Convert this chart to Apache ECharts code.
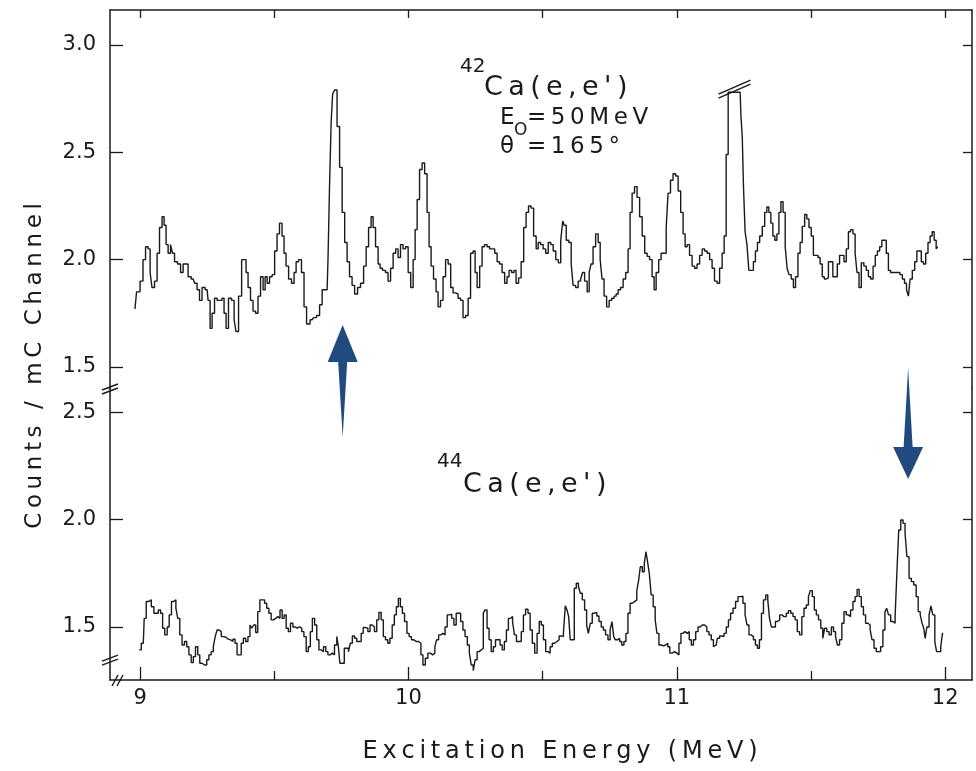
<!DOCTYPE html>
<html>
<head>
<meta charset="utf-8">
<script src="https://cdn.jsdelivr.net/npm/echarts@6/dist/echarts.min.js"></script>
<style>
  html, body { margin: 0; padding: 0; background: #fff; }
  #chart { width: 976px; height: 771px; }
</style>
</head>
<body>
<div id="chart"></div>
<script>
// 42Ca(e,e') spectrum, excitation energy (MeV) / counts per mC channel
const energy42 = [
  8.981, 8.993, 9.007, 9.015, 9.026, 9.034, 9.041, 9.048, 9.060, 9.067, 9.078, 9.086, 9.093, 9.101, 9.108,
  9.119, 9.123, 9.134, 9.145, 9.157, 9.164, 9.175, 9.183, 9.198, 9.209, 9.216, 9.227, 9.235, 9.250, 9.257,
  9.265, 9.272, 9.283, 9.291, 9.302, 9.309, 9.317, 9.324, 9.335, 9.347, 9.354, 9.361, 9.373, 9.384, 9.391,
  9.399, 9.406, 9.417, 9.425, 9.436, 9.443, 9.455, 9.462, 9.470, 9.477, 9.488, 9.496, 9.507, 9.514, 9.525,
  9.533, 9.540, 9.548, 9.559, 9.570, 9.578, 9.585, 9.596, 9.607, 9.615, 9.626, 9.641, 9.652, 9.663, 9.675,
  9.682, 9.697, 9.704, 9.708, 9.716, 9.719, 9.730, 9.738, 9.749, 9.757, 9.768, 9.775, 9.786, 9.794, 9.805,
  9.816, 9.827, 9.839, 9.846, 9.857, 9.865, 9.872, 9.883, 9.891, 9.898, 9.909, 9.920, 9.928, 9.939, 9.947,
  9.958, 9.965, 9.976, 9.984, 9.995, 10.003, 10.014, 10.021, 10.029, 10.036, 10.047, 10.055, 10.066, 10.073, 10.081,
  10.088, 10.099, 10.107, 10.114, 10.125, 10.133, 10.144, 10.152, 10.163, 10.170, 10.181, 10.189, 10.200, 10.207, 10.219,
  10.226, 10.237, 10.245, 10.252, 10.260, 10.271, 10.278, 10.289, 10.297, 10.308, 10.316, 10.327, 10.334, 10.345, 10.353,
  10.364, 10.371, 10.379, 10.390, 10.397, 10.405, 10.416, 10.424, 10.435, 10.442, 10.453, 10.461, 10.472, 10.480, 10.487,
  10.498, 10.506, 10.517, 10.525, 10.536, 10.543, 10.555, 10.562, 10.573, 10.577, 10.584, 10.592, 10.603, 10.610, 10.617,
  10.629, 10.636, 10.647, 10.651, 10.662, 10.670, 10.677, 10.684, 10.692, 10.703, 10.711, 10.718, 10.725, 10.733, 10.744,
  10.752, 10.763, 10.770, 10.778, 10.785, 10.796, 10.804, 10.815, 10.822, 10.830, 10.837, 10.848, 10.856, 10.867, 10.875,
  10.886, 10.893, 10.904, 10.912, 10.919, 10.927, 10.938, 10.945, 10.957, 10.964, 10.971, 10.982, 10.990, 11.001, 11.009,
  11.020, 11.027, 11.035, 11.042, 11.053, 11.061, 11.072, 11.079, 11.091, 11.098, 11.109, 11.117, 11.128, 11.135, 11.146,
  11.154, 11.165, 11.173, 11.180, 11.188, 11.195, 11.210, 11.225, 11.236, 11.242, 11.246, 11.251, 11.258, 11.265, 11.272,
  11.282, 11.289, 11.297, 11.304, 11.314, 11.323, 11.332, 11.339, 11.347, 11.354, 11.362, 11.369, 11.377, 11.384, 11.392,
  11.400, 11.408, 11.414, 11.422, 11.431, 11.438, 11.447, 11.456, 11.463, 11.472, 11.481, 11.488, 11.497, 11.505, 11.513,
  11.522, 11.530, 11.538, 11.546, 11.553, 11.561, 11.569, 11.578, 11.585, 11.594, 11.602, 11.611, 11.619, 11.627, 11.636,
  11.643, 11.652, 11.661, 11.668, 11.675, 11.683, 11.692, 11.702, 11.710, 11.718, 11.727, 11.736, 11.743, 11.752, 11.760,
  11.768, 11.776, 11.785, 11.792, 11.801, 11.810, 11.818, 11.827, 11.836, 11.845, 11.852, 11.860, 11.866, 11.873, 11.882,
  11.891, 11.898, 11.907, 11.915, 11.923, 11.932, 11.940, 11.948, 11.955, 11.963, 11.970, 11.975
]
const counts42 = [
  1.77, 1.85, 1.90, 2.00, 2.06, 2.05, 1.94, 1.87, 1.90, 2.03, 2.15, 2.20, 2.16, 2.07, 2.03,
  2.07, 2.03, 1.99, 1.98, 1.94, 1.98, 1.98, 1.92, 1.91, 1.89, 1.86, 1.81, 1.87, 1.86, 1.81,
  1.68, 1.75, 1.82, 1.81, 1.81, 1.82, 1.75, 1.68, 1.82, 1.81, 1.72, 1.665, 1.83, 2.00, 2.00,
  1.94, 1.87, 1.81, 1.76, 1.75, 1.83, 1.92, 1.86, 1.92, 1.89, 1.92, 1.93, 2.04, 2.12, 2.17,
  2.11, 2.03, 1.97, 1.91, 1.89, 1.94, 1.99, 2.00, 1.94, 1.78, 1.70, 1.72, 1.73, 1.74, 1.79,
  1.86, 1.86, 2.01, 2.34, 2.64, 2.77, 2.79, 2.62, 2.43, 2.22, 2.08, 1.99, 1.92, 1.88, 1.84,
  1.87, 1.89, 1.97, 2.06, 2.15, 2.20, 2.15, 2.06, 1.98, 1.96, 1.95, 1.94, 1.90, 1.96, 2.03,
  2.05, 2.01, 2.07, 2.05, 2.06, 1.94, 1.87, 2.00, 2.14, 2.28, 2.42, 2.45, 2.40, 2.22, 2.06,
  1.97, 1.91, 1.85, 1.78, 1.81, 1.92, 2.00, 1.98, 1.87, 1.845, 1.84, 1.82, 1.81, 1.73, 1.74,
  1.82, 2.03, 2.04, 1.94, 1.87, 1.97, 2.06, 2.07, 2.06, 2.05, 2.05, 2.03, 1.99, 1.98, 1.94,
  1.89, 1.92, 1.95, 1.94, 1.95, 1.89, 1.915, 1.99, 2.15, 2.22, 2.25, 2.24, 2.11, 2.05, 2.08,
  2.07, 2.05, 2.03, 2.08, 2.07, 2.04, 2.00, 1.985, 2.09, 2.18, 2.16, 2.09, 2.08, 1.98, 1.88,
  1.87, 1.90, 1.91, 1.94, 1.90, 1.85, 1.94, 1.98, 2.06, 2.12, 2.08, 2.00, 1.91, 1.83, 1.78,
  1.81, 1.82, 1.83, 1.84, 1.86, 1.87, 1.91, 1.94, 2.05, 2.22, 2.31, 2.34, 2.29, 2.20, 2.11,
  2.03, 2.015, 2.00, 1.92, 1.86, 1.94, 2.00, 2.03, 2.03, 2.15, 2.31, 2.37, 2.40, 2.39, 2.32,
  2.22, 2.12, 2.06, 2.07, 2.02, 1.97, 1.96, 1.98, 2.02, 2.05, 2.04, 2.03, 2.00, 1.96, 1.90,
  1.89, 1.96, 2.03, 2.11, 2.49, 2.78, 2.78, 2.78, 2.78, 2.67, 2.57, 2.34, 2.13, 2.07, 1.95,
  1.95, 1.99, 2.04, 2.08, 2.11, 2.155, 2.22, 2.245, 2.22, 2.17, 2.11, 2.09, 2.12, 2.22, 2.27,
  2.22, 2.06, 1.96, 1.93, 1.91, 1.87, 1.92, 2.03, 2.08, 2.155, 2.21, 2.19, 2.15, 2.11, 2.02,
  2.02, 2.01, 1.98, 1.92, 1.91, 1.915, 1.99, 1.99, 1.92, 1.92, 1.98, 2.02, 2.02, 1.99, 2.05,
  2.13, 2.14, 2.12, 2.03, 1.94, 1.87, 1.985, 1.97, 1.95, 1.92, 1.91, 1.97, 2.02, 2.04, 2.06,
  2.09, 2.09, 2.03, 1.95, 1.94, 1.94, 1.94, 1.94, 1.93, 1.91, 1.89, 1.86, 1.83, 1.91, 1.95,
  1.99, 2.04, 2.04, 1.99, 1.98, 2.03, 2.08, 2.11, 2.13, 2.09, 2.05, 2.06
]

// 44Ca(e,e') spectrum
const energy44 = [
  8.997, 9.012, 9.019, 9.027, 9.037, 9.047, 9.056, 9.064, 9.072, 9.081, 9.087, 9.097, 9.105, 9.112, 9.122,
  9.130, 9.137, 9.144, 9.152, 9.161, 9.170, 9.178, 9.186, 9.195, 9.202, 9.211, 9.219, 9.226, 9.236, 9.245,
  9.252, 9.261, 9.269, 9.277, 9.283, 9.291, 9.298, 9.307, 9.316, 9.324, 9.333, 9.342, 9.350, 9.358, 9.365,
  9.373, 9.381, 9.389, 9.398, 9.406, 9.413, 9.420, 9.427, 9.435, 9.442, 9.451, 9.460, 9.468, 9.476, 9.484,
  9.493, 9.502, 9.509, 9.518, 9.525, 9.534, 9.540, 9.549, 9.556, 9.565, 9.574, 9.581, 9.590, 9.599, 9.606,
  9.615, 9.623, 9.631, 9.638, 9.646, 9.655, 9.662, 9.671, 9.679, 9.688, 9.696, 9.704, 9.713, 9.720, 9.729,
  9.737, 9.741, 9.748, 9.758, 9.764, 9.773, 9.780, 9.787, 9.795, 9.804, 9.811, 9.820, 9.828, 9.835, 9.845,
  9.853, 9.861, 9.869, 9.878, 9.886, 9.894, 9.903, 9.910, 9.919, 9.927, 9.935, 9.944, 9.951, 9.959, 9.966,
  9.974, 9.981, 9.990, 9.999, 10.006, 10.016, 10.025, 10.033, 10.043, 10.050, 10.058, 10.068, 10.077, 10.086, 10.095,
  10.102, 10.108, 10.117, 10.124, 10.133, 10.140, 10.149, 10.158, 10.165, 10.174, 10.182, 10.190, 10.199, 10.207, 10.215,
  10.224, 10.230, 10.238, 10.245, 10.252, 10.260, 10.267, 10.276, 10.282, 10.289, 10.297, 10.304, 10.313, 10.320, 10.329,
  10.338, 10.345, 10.354, 10.361, 10.369, 10.376, 10.385, 10.391, 10.399, 10.406, 10.416, 10.425, 10.432, 10.441, 10.450,
  10.457, 10.466, 10.475, 10.484, 10.491, 10.499, 10.507, 10.516, 10.524, 10.532, 10.540, 10.549, 10.558, 10.565, 10.574,
  10.581, 10.588, 10.594, 10.600, 10.606, 10.615, 10.621, 10.630, 10.637, 10.644, 10.652, 10.661, 10.667, 10.674, 10.681,
  10.689, 10.698, 10.706, 10.714, 10.723, 10.730, 10.739, 10.748, 10.755, 10.762, 10.768, 10.774, 10.783, 10.791, 10.799,
  10.807, 10.814, 10.822, 10.830, 10.838, 10.847, 10.855, 10.861, 10.867, 10.876, 10.882, 10.888, 10.894, 10.901, 10.908,
  10.916, 10.923, 10.929, 10.938, 10.947, 10.954, 10.963, 10.970, 10.978, 10.988, 10.996, 11.004, 11.012, 11.019, 11.027,
  11.035, 11.043, 11.050, 11.058, 11.066, 11.075, 11.083, 11.091, 11.099, 11.108, 11.116, 11.124, 11.133, 11.140, 11.147,
  11.155, 11.164, 11.172, 11.180, 11.189, 11.196, 11.205, 11.214, 11.224, 11.232, 11.242, 11.251, 11.258, 11.265, 11.273,
  11.282, 11.289, 11.297, 11.304, 11.312, 11.319, 11.327, 11.336, 11.342, 11.349, 11.356, 11.364, 11.371, 11.379, 11.388,
  11.395, 11.404, 11.412, 11.420, 11.429, 11.437, 11.445, 11.453, 11.462, 11.470, 11.478, 11.487, 11.494, 11.501, 11.509,
  11.516, 11.524, 11.532, 11.541, 11.547, 11.555, 11.563, 11.572, 11.580, 11.588, 11.595, 11.602, 11.611, 11.619, 11.627,
  11.636, 11.643, 11.652, 11.661, 11.668, 11.676, 11.683, 11.692, 11.699, 11.708, 11.717, 11.724, 11.731, 11.739, 11.748,
  11.755, 11.764, 11.772, 11.779, 11.785, 11.793, 11.801, 11.810, 11.817, 11.824, 11.830, 11.839, 11.847, 11.854, 11.861,
  11.870, 11.878, 11.888, 11.896, 11.903, 11.911, 11.917, 11.923, 11.928, 11.936, 11.944, 11.950, 11.958, 11.965, 11.971,
  11.980, 11.987, 11.993
]
const counts44 = [
  1.393, 1.424, 1.54, 1.618, 1.626, 1.594, 1.564, 1.564, 1.579, 1.564, 1.494, 1.463, 1.50, 1.556, 1.618,
  1.626, 1.587, 1.54, 1.463, 1.416, 1.432, 1.408, 1.37, 1.334, 1.362, 1.408, 1.37, 1.331, 1.323, 1.323,
  1.347, 1.37, 1.385, 1.408, 1.455, 1.486, 1.478, 1.455, 1.452, 1.443, 1.44, 1.432, 1.443, 1.424, 1.37,
  1.37, 1.424, 1.447, 1.432, 1.455, 1.509, 1.494, 1.509, 1.474, 1.571, 1.626, 1.626, 1.61, 1.587, 1.564,
  1.533, 1.54, 1.548, 1.54, 1.579, 1.54, 1.556, 1.494, 1.478, 1.517, 1.50, 1.494, 1.50, 1.494, 1.478,
  1.455, 1.385, 1.408, 1.478, 1.54, 1.509, 1.44, 1.393, 1.385, 1.408, 1.385, 1.37, 1.378, 1.37, 1.416,
  1.455, 1.408, 1.331, 1.331, 1.401, 1.401, 1.385, 1.424, 1.458, 1.447, 1.432, 1.432, 1.47, 1.497, 1.494,
  1.478, 1.509, 1.50, 1.478, 1.533, 1.567, 1.533, 1.455, 1.44, 1.424, 1.447, 1.509, 1.556, 1.594, 1.633,
  1.594, 1.564, 1.525, 1.47, 1.455, 1.44, 1.432, 1.432, 1.424, 1.37, 1.323, 1.354, 1.378, 1.37, 1.378,
  1.408, 1.44, 1.463, 1.47, 1.463, 1.50, 1.556, 1.56, 1.54, 1.509, 1.564, 1.564, 1.525, 1.486, 1.455,
  1.416, 1.378, 1.323, 1.297, 1.347, 1.385, 1.393, 1.401, 1.564, 1.579, 1.494, 1.44, 1.385, 1.408, 1.44,
  1.44, 1.416, 1.393, 1.432, 1.486, 1.54, 1.548, 1.525, 1.463, 1.432, 1.432, 1.478, 1.556, 1.582, 1.564,
  1.486, 1.424, 1.378, 1.47, 1.525, 1.509, 1.44, 1.385, 1.378, 1.408, 1.424, 1.432, 1.44, 1.458, 1.455,
  1.47, 1.598, 1.579, 1.548, 1.44, 1.44, 1.68, 1.703, 1.688, 1.657, 1.626, 1.579, 1.509, 1.47, 1.517,
  1.564, 1.567, 1.551, 1.525, 1.50, 1.486, 1.463, 1.44, 1.486, 1.525, 1.455, 1.44, 1.447, 1.432, 1.416,
  1.432, 1.47, 1.564, 1.61, 1.618, 1.626, 1.669, 1.719, 1.78, 1.757, 1.796, 1.85, 1.804, 1.75, 1.649,
  1.594, 1.533, 1.47, 1.416, 1.412, 1.416, 1.424, 1.408, 1.378, 1.385, 1.378, 1.37, 1.424, 1.47, 1.478,
  1.47, 1.478, 1.44, 1.416, 1.44, 1.478, 1.50, 1.509, 1.509, 1.50, 1.478, 1.463, 1.44, 1.408, 1.416,
  1.447, 1.458, 1.455, 1.47, 1.50, 1.533, 1.564, 1.587, 1.618, 1.641, 1.643, 1.61, 1.556, 1.509, 1.463,
  1.455, 1.44, 1.416, 1.401, 1.44, 1.564, 1.626, 1.649, 1.626, 1.54, 1.50, 1.50, 1.525, 1.533, 1.556,
  1.548, 1.548, 1.564, 1.576, 1.564, 1.548, 1.533, 1.478, 1.463, 1.548, 1.587, 1.602, 1.641, 1.669, 1.641,
  1.579, 1.556, 1.533, 1.494, 1.447, 1.494, 1.478, 1.463, 1.50, 1.478, 1.455, 1.416, 1.44, 1.517, 1.571,
  1.556, 1.548, 1.579, 1.618, 1.641, 1.675, 1.641, 1.594, 1.556, 1.517, 1.509, 1.486, 1.44, 1.401, 1.385,
  1.385, 1.408, 1.486, 1.571, 1.587, 1.556, 1.525, 1.517, 1.548, 1.765, 1.951, 1.998, 1.982, 1.936, 1.827,
  1.726, 1.711, 1.695, 1.641, 1.571, 1.556, 1.517, 1.494, 1.447, 1.50, 1.556, 1.598, 1.556, 1.432, 1.385,
  1.385, 1.408, 1.47
]

const xTicks = [9, 10, 11, 12]
const xHalfTicks = [9.5, 10.5, 11.5]
const xAllTicks = [9, 9.5, 10, 10.5, 11, 11.5, 12]
const yTicks42 = [1.5, 2.0, 2.5, 3.0]
const yTicks44 = [1.5, 2.0, 2.5]

const ink = '#1a1a1a'
const arrowBlue = '#214b7f'
const font = 'DejaVu Sans'

// thin spaces between letters, the original lettering is widely tracked
function spread(s) {
  return s.split('').join('\u2009')
}

function pairs(xs, ys) {
  return xs.map((x, i) => [x, ys[i]])
}

const chart = echarts.init(document.getElementById('chart'), null, { renderer: 'canvas' })

const xMin = 8.888
const xMax = 12.1

const lineAxis = { show: true, lineStyle: { color: ink, width: 1.5 } }

const option = {
  animation: false,
  backgroundColor: '#fff',
  grid: [
    { left: 110, right: 4, top: 10, height: 378 },
    { left: 110, right: 4, top: 388, height: 292 }
  ],
  xAxis: [
    {
      type: 'value', gridIndex: 0, position: 'top', min: xMin, max: xMax,
      axisLine: lineAxis,
      axisTick: { show: true, inside: true, length: 8, customValues: xAllTicks, lineStyle: { color: ink, width: 1.3 } },
      axisLabel: { show: false },
      splitLine: { show: false }
    },
    {
      type: 'value', gridIndex: 1, position: 'bottom', min: xMin, max: xMax,
      axisLine: lineAxis,
      axisTick: { show: true, inside: true, length: 13, customValues: xTicks, lineStyle: { color: ink, width: 1.3 } },
      axisLabel: {
        show: true, customValues: xTicks, margin: 8,
        color: ink, fontFamily: font, fontSize: 21,
        formatter: v => String(Math.round(v))
      },
      splitLine: { show: false }
    },
    {
      type: 'value', gridIndex: 1, position: 'bottom', min: xMin, max: xMax,
      axisLine: { show: false },
      axisTick: { show: true, inside: true, length: 9, customValues: xHalfTicks, lineStyle: { color: ink, width: 1.3 } },
      axisLabel: { show: false },
      splitLine: { show: false }
    }
  ],
  yAxis: [
    {
      type: 'value', gridIndex: 0, position: 'left', min: 1.402, max: 3.163,
      axisLine: lineAxis,
      axisTick: { show: true, inside: true, length: 13, customValues: yTicks42, lineStyle: { color: ink, width: 1.3 } },
      axisLabel: {
        show: true, customValues: yTicks42, margin: 14,
        color: ink, fontFamily: font, fontSize: 21,
        formatter: v => v.toFixed(1)
      },
      splitLine: { show: false }
    },
    {
      type: 'value', gridIndex: 0, position: 'right', min: 1.402, max: 3.163,
      axisLine: lineAxis,
      axisTick: { show: true, inside: true, length: 9, customValues: yTicks42, lineStyle: { color: ink, width: 1.3 } },
      axisLabel: { show: false },
      splitLine: { show: false }
    },
    {
      type: 'value', gridIndex: 1, position: 'left', min: 1.253, max: 2.612,
      axisLine: lineAxis,
      axisTick: { show: true, inside: true, length: 13, customValues: yTicks44, lineStyle: { color: ink, width: 1.3 } },
      axisLabel: {
        show: true, customValues: yTicks44, margin: 14,
        color: ink, fontFamily: font, fontSize: 21,
        formatter: v => v.toFixed(1)
      },
      splitLine: { show: false }
    },
    {
      type: 'value', gridIndex: 1, position: 'right', min: 1.253, max: 2.612,
      axisLine: lineAxis,
      axisTick: { show: true, inside: true, length: 9, customValues: yTicks44, lineStyle: { color: ink, width: 1.3 } },
      axisLabel: { show: false },
      splitLine: { show: false }
    }
  ],
  series: [
    {
      name: '42Ca', type: 'line', xAxisIndex: 0, yAxisIndex: 0,
      data: pairs(energy42, counts42), step: 'middle',
      showSymbol: false, lineStyle: { color: ink, width: 1.4 }
    },
    {
      name: '44Ca', type: 'line', xAxisIndex: 1, yAxisIndex: 2,
      data: pairs(energy44, counts44), step: 'middle',
      showSymbol: false, lineStyle: { color: ink, width: 1.4 }
    }
  ]
}

chart.setOption(option)

// annotations placed after the axes exist
function px(axis, v) {
  return chart.convertToPixel({ xAxisIndex: axis }, v)
}
function py(axis, v) {
  return chart.convertToPixel({ yAxisIndex: axis }, v)
}

function txt(x, y, text, size, extra) {
  return {
    type: 'text', x, y, silent: true,
    style: Object.assign({
      text, fill: ink, fontFamily: font, fontSize: size,
      align: 'left', verticalAlign: 'middle'
    }, extra || {})
  }
}

function seg(x1, y1, x2, y2) {
  return {
    type: 'line', silent: true,
    shape: { x1, y1, x2, y2 },
    style: { stroke: ink, lineWidth: 1.4 }
  }
}

const axisX = px(1, xMin)
const breakTop = py(0, 1.402)
const plotBottom = py(2, 1.253)
const break44 = py(2, 1.35)

// clipped peak mark near 11.2 MeV
const clipX = px(0, 11.215)
const clipY = py(0, 2.79)

// arrows marking the M1 candidates
const upX = px(0, 9.755)
const downX = px(1, 11.862)

const upArrow = [
  [upX, 325], [upX + 15, 362], [upX + 4.5, 362], [upX, 437], [upX - 4.5, 362], [upX - 15, 362]
]
const downArrow = [
  [downX, 368], [downX + 4.5, 447], [downX + 15, 447], [downX, 479], [downX - 15, 447], [downX - 4.5, 447]
]

const graphic = [
  // axis breaks on the left axis
  seg(axisX - 8, breakTop + 2, axisX + 8, breakTop - 4),
  seg(axisX - 8, breakTop + 6, axisX + 8, breakTop),
  seg(axisX - 8, break44 + 2, axisX + 8, break44 - 4),
  seg(axisX - 8, break44 + 6, axisX + 8, break44),
  // break on the bottom axis
  seg(axisX + 2, plotBottom + 6, axisX + 8, plotBottom - 5),
  seg(axisX + 7, plotBottom + 6, axisX + 13, plotBottom - 5),
  // clipped peak
  seg(clipX - 16, clipY + 8, clipX + 16, clipY - 6),
  seg(clipX - 16, clipY + 4, clipX + 16, clipY - 10),
  { type: 'polygon', silent: true, shape: { points: upArrow }, style: { fill: arrowBlue } },
  { type: 'polygon', silent: true, shape: { points: downArrow }, style: { fill: arrowBlue } },
  // labels
  txt(460, 67, '42', 20),
  txt(484, 88, spread("Ca(e,e')"), 27),
  txt(500, 118, 'E', 23),
  txt(514, 131, 'O', 17),
  txt(527, 118, spread('=50MeV'), 23),
  txt(500, 147, '\u03b8', 23),
  txt(527, 147, spread('=165\u00b0'), 23),
  txt(437, 462, '44', 20),
  txt(463, 485, spread("Ca(e,e')"), 27),
  {
    type: 'text', x: 35, y: 366, rotation: Math.PI / 2, silent: true,
    style: {
      text: spread('Counts / mC Channel'), fill: ink, fontFamily: font, fontSize: 23,
      align: 'center', verticalAlign: 'middle'
    }
  },
  txt(560, 752, spread('Excitation Energy (MeV)'), 24, { align: 'center' })
]

chart.setOption({ graphic })
</script>
</body>
</html>
